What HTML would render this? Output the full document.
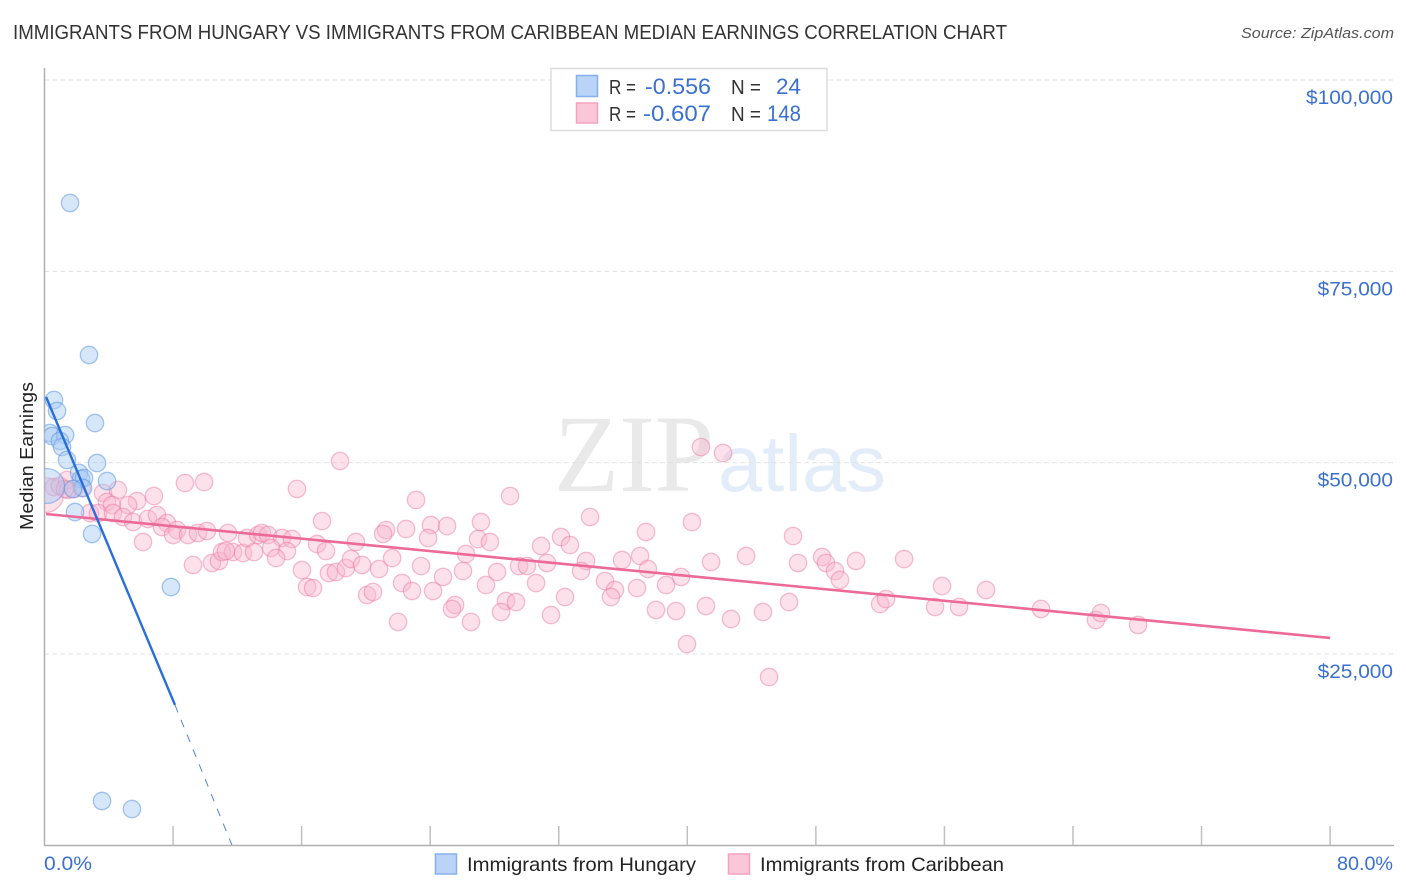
<!DOCTYPE html>
<html lang="en">
<head>
<meta charset="utf-8">
<title>Immigrants from Hungary vs Immigrants from Caribbean Median Earnings Correlation Chart</title>
<style>
html,body{margin:0;padding:0;background:#fff;}
svg{display:block;font-family:"Liberation Sans",sans-serif;}
</style>
</head>
<body>
<svg id="chart" xmlns="http://www.w3.org/2000/svg" width="1406" height="892" viewBox="0 0 1406 892">
  <defs>
    <clipPath id="plot-clip"><rect x="44.5" y="60" width="1350" height="785"/></clipPath>
  </defs>
  <rect x="0" y="0" width="1406" height="892" fill="#ffffff"/>
  <text x="13" y="39" font-size="20" fill="#333333" textLength="994" lengthAdjust="spacingAndGlyphs">IMMIGRANTS FROM HUNGARY VS IMMIGRANTS FROM CARIBBEAN MEDIAN EARNINGS CORRELATION CHART</text>
  <text x="1241" y="38" font-size="15" font-style="italic" fill="#555555" textLength="153" lengthAdjust="spacingAndGlyphs">Source: ZipAtlas.com</text>

  <g>
    <text x="554" y="491" font-family="'Liberation Serif',serif" font-size="110" fill="#e9e9e9" textLength="160" lengthAdjust="spacingAndGlyphs">ZIP</text>
    <text x="718" y="491" font-size="80" fill="#e3edf9" textLength="168" lengthAdjust="spacingAndGlyphs">atlas</text>
  </g>

  <g id="grid"></g>
  <g id="axes"></g>
  <g id="caribbean-points" clip-path="url(#plot-clip)"></g>
  <g id="hungary-points" clip-path="url(#plot-clip)"></g>
  <g id="trends" clip-path="url(#plot-clip)"></g>
  <g id="y-labels"></g>

  <text transform="translate(33,456) rotate(-90)" text-anchor="middle" font-size="18.5" fill="#222222" textLength="148" lengthAdjust="spacingAndGlyphs">Median Earnings</text>
  <text x="44" y="870" font-size="19.5" fill="#3a70d0" textLength="48" lengthAdjust="spacingAndGlyphs">0.0%</text>
  <text x="1337" y="870" font-size="19.5" fill="#3a70d0" textLength="56" lengthAdjust="spacingAndGlyphs">80.0%</text>

  <g>
    <rect x="551" y="68.5" width="276" height="62" fill="#ffffff" stroke="#dddddd" stroke-width="1.5"/>
    <rect x="576.5" y="75.5" width="21" height="21" fill="#b9d4f6" stroke="#86b0e8" stroke-width="1.5"/>
    <rect x="576.5" y="103" width="21" height="20" fill="#fbc6d7" stroke="#f3a3bf" stroke-width="1.5"/>
    <text x="609" y="94" font-size="20.5" fill="#333333" textLength="27" lengthAdjust="spacingAndGlyphs">R =</text>
    <text x="645" y="94" font-size="22" fill="#3a70d0" textLength="66" lengthAdjust="spacingAndGlyphs">-0.556</text>
    <text x="731" y="94" font-size="20.5" fill="#333333" textLength="30" lengthAdjust="spacingAndGlyphs">N =</text>
    <text x="776" y="94" font-size="22" fill="#3a70d0" textLength="25" lengthAdjust="spacingAndGlyphs">24</text>
    <text x="609" y="121" font-size="20.5" fill="#333333" textLength="27" lengthAdjust="spacingAndGlyphs">R =</text>
    <text x="643" y="121" font-size="22" fill="#3a70d0" textLength="68" lengthAdjust="spacingAndGlyphs">-0.607</text>
    <text x="731" y="121" font-size="20.5" fill="#333333" textLength="30" lengthAdjust="spacingAndGlyphs">N =</text>
    <text x="767" y="121" font-size="22" fill="#3a70d0" textLength="34" lengthAdjust="spacingAndGlyphs">148</text>
  </g>

  <g>
    <rect x="435.5" y="854" width="21" height="20" fill="#b9d4f6" stroke="#86b0e8" stroke-width="1.5"/>
    <text x="467" y="871" font-size="19.5" fill="#222222" textLength="229" lengthAdjust="spacingAndGlyphs">Immigrants from Hungary</text>
    <rect x="728.5" y="854" width="21" height="20" fill="#fbc6d7" stroke="#f3a3bf" stroke-width="1.5"/>
    <text x="760" y="871" font-size="19.5" fill="#222222" textLength="244" lengthAdjust="spacingAndGlyphs">Immigrants from Caribbean</text>
  </g>
</svg>

<script>
var yTickValues = [100000, 75000, 50000, 25000];
var yTickLabels = ["$100,000", "$75,000", "$50,000", "$25,000"];
var xTickValues = [8, 16, 24, 32, 40, 48, 56, 64, 72, 80];

var hungaryRates = [0.16,1.59,2.77,0.59,0.78,3.14,0.34,0.47,1.28,0.96,1.09,1.40,3.27,2.15,2.27,2.46,3.89,2.40,1.90,2.96,7.87,3.58,5.44,1.77];
var hungaryEarnings = [46950,83930,64070,58190,56750,55180,53870,53480,53610,52830,52040,50350,49950,48650,47860,47990,47600,46690,43550,40680,33750,5790,4740,46560];
var hungaryWeights = [4,1,1,1,1,1,1,1,1,1,1,1,1,1,1,1,1,1,1,1,1,1,1,1];

var caribbeanRates = [0.09,0.59,0.96,1.40,1.84,1.46,2.33,3.64,4.57,6.81,5.76,5.20,3.89,4.20,8.74,9.93,2.83,3.33,4.26,4.88,5.51,6.44,7.00,7.62,7.31,8.25,8.00,8.93,9.55,10.11,11.42,6.13,9.24,10.42,10.86,11.05,11.73,12.35,13.04,12.60,13.29,13.53,13.91,14.78,15.40,14.10,15.09,14.41,15.71,18.39,17.27,16.96,17.52,19.38,16.02,16.34,16.71,17.70,18.14,18.76,19.07,19.76,20.82,21.63,23.43,21.25,21.07,22.50,23.12,24.05,25.05,23.87,22.25,22.87,24.18,24.80,20.07,20.44,22.00,26.23,26.04,25.55,25.36,26.54,27.16,26.98,27.72,28.16,27.47,28.97,29.53,30.02,31.27,30.90,30.59,28.72,29.34,28.41,31.52,32.39,32.14,32.70,33.95,33.70,33.39,34.88,35.50,35.25,35.94,37.06,37.43,37.55,36.87,38.68,39.61,40.29,38.05,39.30,41.16,41.48,42.72,43.66,44.71,46.33,46.58,46.89,48.39,48.63,49.19,49.50,50.50,53.49,52.00,52.37,55.42,56.91,55.85,58.59,62.01,65.43,65.74,68.05,39.98,45.09,40.85,42.22,11.29,1.27];
var caribbeanEarnings = [45770,46820,46950,47730,46560,46430,46690,46030,46430,45640,44990,44470,44860,44470,47340,47470,43420,43420,43420,42900,42240,42640,43160,42110,41590,41200,40550,40550,40810,41070,40810,39630,36630,36890,37150,38320,38320,38190,38320,40150,40550,40810,40550,40150,40020,38850,38450,37540,46560,50220,42370,39370,38450,39630,35970,33750,33620,35580,35710,36230,37410,36630,36100,37540,36490,41200,40680,41330,45120,41850,41720,40150,34270,33230,33230,35060,32700,33100,29180,38060,35840,31400,30880,29180,42240,40020,39630,35710,34010,45640,36490,36490,36890,39110,34270,31920,31790,30480,30090,32440,40280,39240,42900,37150,35840,34530,33360,32440,37280,37800,40940,36100,33620,34010,35060,42240,30750,30610,31270,37020,29570,37800,30480,31790,40410,36890,37670,36890,35840,34670,37150,37410,31530,32180,31140,31140,33880,33360,30880,29440,30350,28790,26300,21990,52040,51260,38450,46560];
var caribbeanWeights = [4];

var hungaryTrendRates = [0.1, 8.12];
var hungaryTrendEarnings = [58580, 18330];
var hungaryDashRates = [8.12, 11.67];
var hungaryDashEarnings = [18330, 0];
var caribbeanTrendRates = [0.1, 80];
var caribbeanTrendEarnings = [43290, 27090];

var SVGNS = "http://www.w3.org/2000/svg";
function xScale(rate) { return 44.5 + rate * 16.07; }
function yScale(value) { return 80 + (100000 - value) * 0.007653; }
function make(tag, attrs, parent) {
  var el = document.createElementNS(SVGNS, tag);
  for (var k in attrs) { el.setAttribute(k, attrs[k]); }
  parent.appendChild(el);
  return el;
}

var gridGroup = document.getElementById("grid");
var labelGroup = document.getElementById("y-labels");
yTickValues.forEach(function (v, i) {
  var y = yScale(v);
  var line = make("line", {x1: 44.5, x2: 1394, y1: y, y2: y, stroke: "#e0e0e0", "stroke-width": 1, "stroke-dasharray": "4.5 3.5"}, gridGroup);
  
  
  var label = yTickLabels[i];
  var text = make("text", {x: 1393, y: y + 24, "text-anchor": "end", "font-size": 19.5, fill: "#3a70d0",
    textLength: (0.556 * (label.length - 1) + 0.278) * 20.86, lengthAdjust: "spacingAndGlyphs"}, labelGroup);
  text.textContent = label;
  
  
});

var axesGroup = document.getElementById("axes");
var yAxisLine = make("line", {x1: 44.5, x2: 44.5, y1: 68, y2: 846, stroke: "#b0b0b0", "stroke-width": 1.5}, axesGroup);


var xAxisLine = make("line", {x1: 44, x2: 1394, y1: 845.5, y2: 845.5, stroke: "#b0b0b0", "stroke-width": 1.5}, axesGroup);


xTickValues.forEach(function (t) {
  var x = xScale(t);
  var tick = make("line", {x1: x, x2: x, y1: 826, y2: 845, stroke: "#c0c0c0", "stroke-width": 1.5}, axesGroup);
  
  
});

var baseRadius = 8.7;
var caribbeanGroup = document.getElementById("caribbean-points");
caribbeanRates.forEach(function (rate, i) {
  var w = caribbeanWeights[i] || 1;
  var c = make("circle", {cx: xScale(rate), cy: yScale(caribbeanEarnings[i]), r: baseRadius * Math.sqrt(w),
    fill: "#f9b6cc", "fill-opacity": 0.42, stroke: "#ea7ba1", "stroke-opacity": 0.48, "stroke-width": 1.3}, caribbeanGroup);
  
  
});

var hungaryGroup = document.getElementById("hungary-points");
hungaryRates.forEach(function (rate, i) {
  var w = hungaryWeights[i] || 1;
  var c = make("circle", {cx: xScale(rate), cy: yScale(hungaryEarnings[i]), r: baseRadius * Math.sqrt(w),
    fill: "#a6c9f3", "fill-opacity": 0.45, stroke: "#5f98e2", "stroke-opacity": 0.55, "stroke-width": 1.3}, hungaryGroup);
  
  
});

var trendGroup = document.getElementById("trends");
var caribbeanLine = make("line", {x1: xScale(caribbeanTrendRates[0]), y1: yScale(caribbeanTrendEarnings[0]),
  x2: xScale(caribbeanTrendRates[1]), y2: yScale(caribbeanTrendEarnings[1]), stroke: "#ec6a97", "stroke-width": 2.6}, trendGroup);


var hungaryLine = make("line", {x1: xScale(hungaryTrendRates[0]), y1: yScale(hungaryTrendEarnings[0]),
  x2: xScale(hungaryTrendRates[1]), y2: yScale(hungaryTrendEarnings[1]), stroke: "#2a6fd8", "stroke-width": 2.4}, trendGroup);


var hungaryDash = make("line", {x1: xScale(hungaryDashRates[0]), y1: yScale(hungaryDashEarnings[0]),
  x2: xScale(hungaryDashRates[1]), y2: yScale(hungaryDashEarnings[1]), stroke: "#4f86d8", "stroke-width": 1, "stroke-dasharray": "8 8"}, trendGroup);


</script>
</body>
</html>
